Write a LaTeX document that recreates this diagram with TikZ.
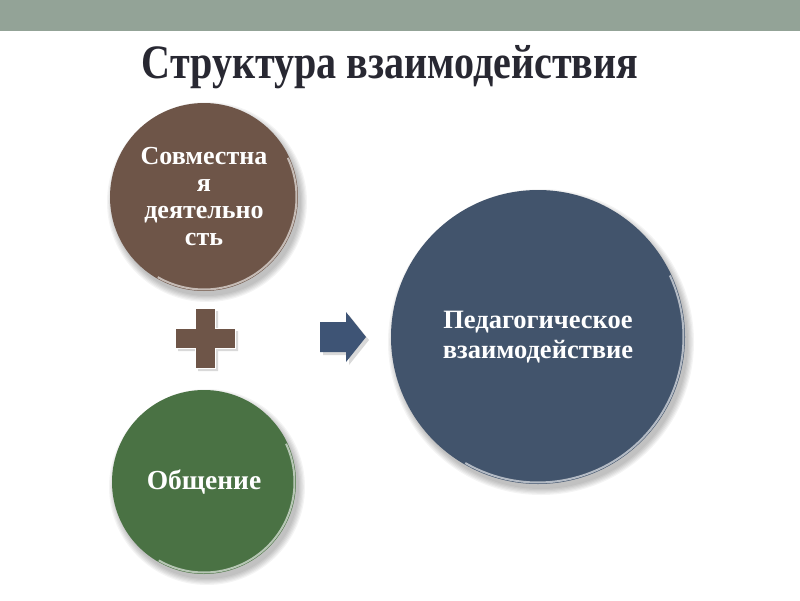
\documentclass[tikz,border=0pt]{standalone}
\usepackage{fontspec}
\setmainfont{Liberation Serif}
\newfontfamily\titlefont[FakeStretch=0.835]{Liberation Serif}
\definecolor{band}{RGB}{147,163,151}
\definecolor{brownc}{RGB}{110,85,72}
\definecolor{greenc}{RGB}{74,114,68}
\definecolor{bluec}{RGB}{66,84,108}
\definecolor{arrowc}{RGB}{62,84,117}
\definecolor{titlec}{RGB}{40,40,50}
\begin{document}
\begin{tikzpicture}[x=1pt,y=-1pt,
  bubble/.style={circle, inner sep=0pt, text=white, align=center},
  shadowring/.style={fill=black, opacity=0.045},
  rim/.style={draw=white, opacity=0.6, line width=2pt}]
\useasboundingbox (0,0) rectangle (800,600);
\fill[white] (0,0) rectangle (800,600);
\fill[band] (0,0) rectangle (800,31);
% title
\node[font=\titlefont\bfseries\fontsize{48}{50}\selectfont, text=titlec] (title) at (390,67) {Структура взаимодействия};
% shadows
\foreach \x/\y/\r in {204/197/94, 204/482/92, 538/337/147}{
  \foreach \k in {0,...,5}{
    \fill[shadowring] (\x+3,\y+5) circle ({\r pt+\k*1.2pt});
  }
}
% circles
\node[bubble, fill=brownc, minimum size=188pt, font=\bfseries\fontsize{26}{27}\selectfont] (joint) at (204,197) {Совместна\\я\\деятельно\\сть};
\node[bubble, fill=greenc, minimum size=184pt, font=\bfseries\fontsize{27.5}{30}\selectfont] (talk) at (204,482) {Общение};
\node[bubble, fill=bluec, minimum size=294pt, font=\bfseries\fontsize{26.5}{30}\selectfont] (ped) at (538,337) {Педагогическое\\взаимодействие};
% rims (lower-right highlight)
\foreach \x/\y/\r in {204/197/92.5, 204/482/90.5, 538/337/145.5}{
  \draw[rim, variable=\t, domain=-120:25, samples=60] plot ({\x+\r*cos(\t)}, {\y-\r*sin(\t)});
}
% plus
\fill[black, opacity=0.15] (198,311) -- (218,311) -- (218,331) -- (238,331) -- (238,351) -- (218,351) -- (218,371) -- (198,371) -- (198,351) -- (178,351) -- (178,331) -- (198,331) -- cycle;
\fill[brownc, draw=white, line width=0.6pt] (195,308) -- (215,308) -- (215,328) -- (235,328) -- (235,348) -- (215,348) -- (215,368) -- (195,368) -- (195,348) -- (175,348) -- (175,328) -- (195,328) -- cycle;
% arrow
\fill[black, opacity=0.15] (323,325) -- (349,325) -- (349,315) -- (369,340) -- (349,365) -- (349,355) -- (323,355) -- cycle;
\fill[arrowc] (320,322) -- (346,322) -- (346,312) -- (366,337) -- (346,362) -- (346,352) -- (320,352) -- cycle;
\end{tikzpicture}
\end{document}
